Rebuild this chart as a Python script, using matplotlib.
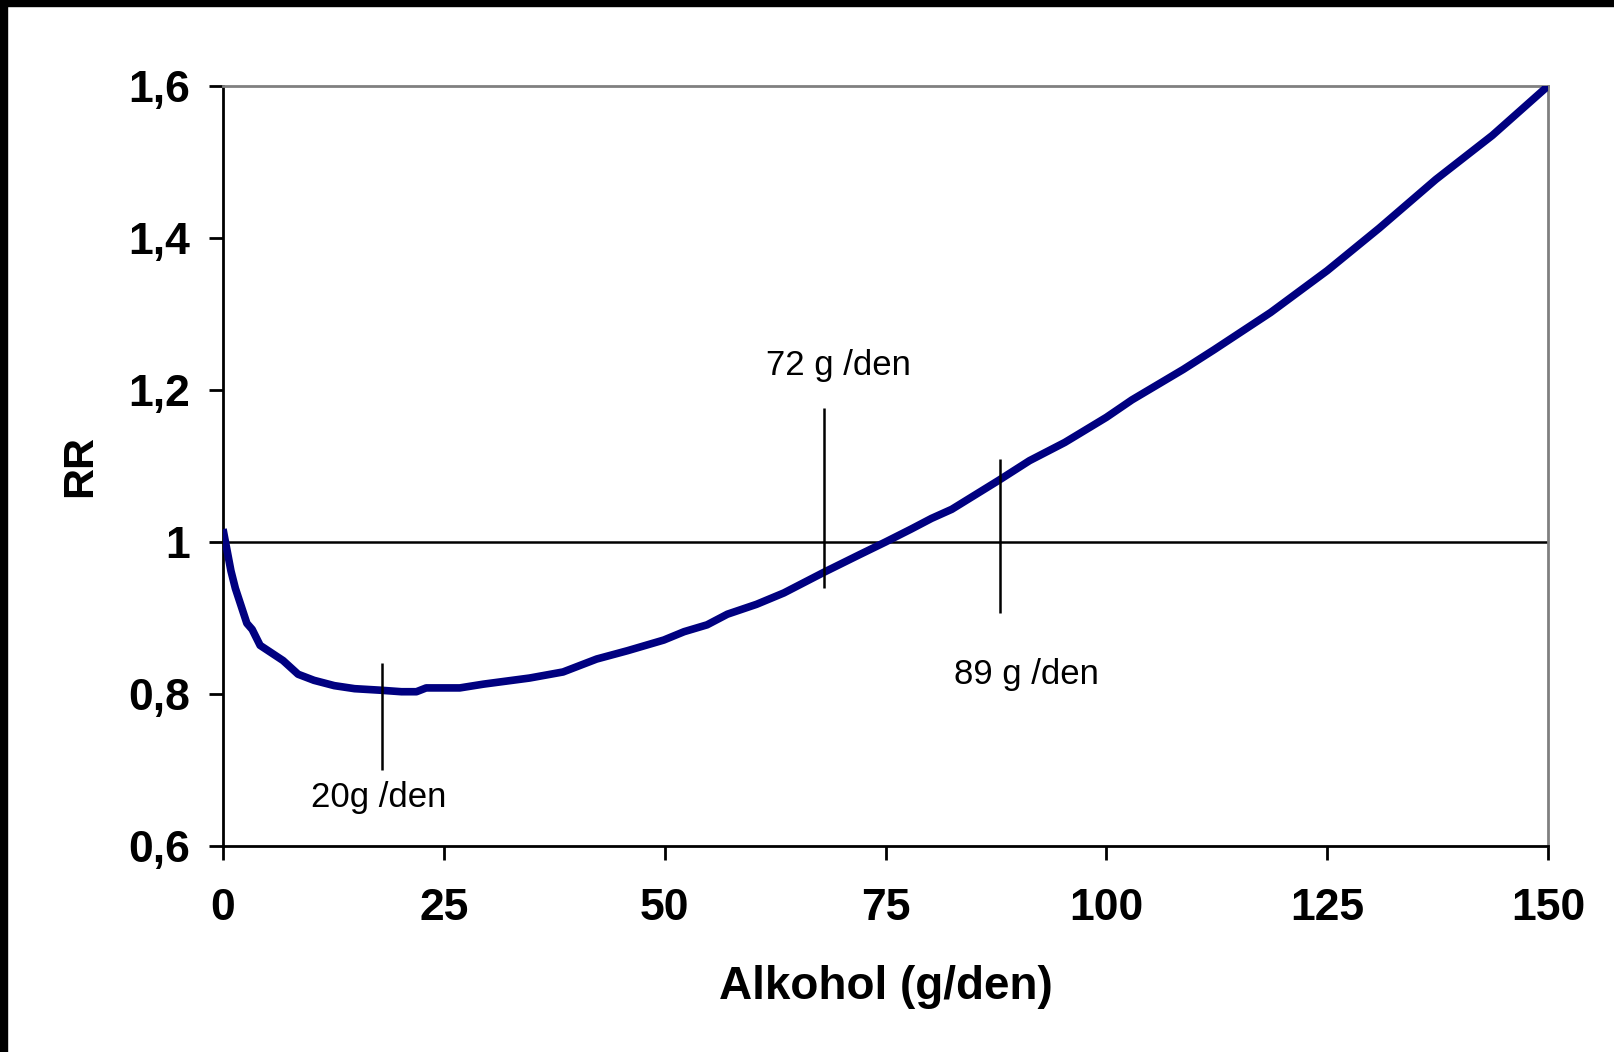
import numpy as np
import matplotlib.pyplot as plt
from matplotlib.patches import Rectangle

# Curve (alcohol g/day vs. relative risk)
alcohol = [0, 0.9, 1.4, 2.7, 3.3, 4.2, 6.8, 8.5, 10.3, 12.6, 14.9, 17.8, 20.2,
           21.9, 23.0, 24.8, 26.8, 29.5, 34.7, 38.5, 42.3, 45.8, 49.9, 52.2,
           54.8, 57.1, 60.4, 63.5, 68.0, 72.0, 75.0, 77.9, 80.2, 82.5, 87.8,
           91.3, 95.3, 100.0, 102.9, 108.7, 112.2, 118.6, 125.0, 130.9, 137.3,
           143.7, 150.0]
rr = [1.017, 0.962, 0.939, 0.893, 0.885, 0.864, 0.844, 0.826, 0.818, 0.811,
      0.807, 0.805, 0.803, 0.803, 0.808, 0.808, 0.808, 0.813, 0.821, 0.829,
      0.846, 0.857, 0.871, 0.882, 0.891, 0.905, 0.918, 0.933, 0.960, 0.983,
      1.000, 1.017, 1.031, 1.043, 1.081, 1.107, 1.131, 1.164, 1.187, 1.227,
      1.253, 1.302, 1.357, 1.413, 1.477, 1.535, 1.600]

x_ticks = [0, 25, 50, 75, 100, 125, 150]
y_ticks = [0.6, 0.8, 1.0, 1.2, 1.4, 1.6]
y_ticklabels = ['0,6', '0,8', '1', '1,2', '1,4', '1,6']

# marker lines: x, y bottom, y top
marks_x = [18, 68, 88]
marks_lo = [0.70, 0.939, 0.907]
marks_hi = [0.841, 1.176, 1.109]
labels = ['20g /den', '72 g /den', '89 g /den']
label_x = [10.0, 61.5, 82.8]
label_y = [0.664, 1.232, 0.826]

plt.rcParams['font.family'] = ['Liberation Sans', 'DejaVu Sans']

fig = plt.figure(figsize=(16.14, 10.52), dpi=100)
ax = fig.add_axes([223 / 1614, 1 - 846 / 1052, 1325 / 1614, 760 / 1052])

ax.plot(alcohol, rr, color='#000080', lw=5.5, solid_capstyle='butt', zorder=3)
ax.axhline(1.0, color='black', lw=1.8, zorder=2)
ax.vlines(marks_x, marks_lo, marks_hi, color='black', lw=1.8, zorder=4)
for t, tx, ty in zip(labels, label_x, label_y):
    ax.text(tx, ty, t, fontsize=25, ha='left', va='center')

ax.set_xlim(0, 150)
ax.set_ylim(0.6, 1.6)
ax.set_xticks(x_ticks)
ax.set_yticks(y_ticks)
ax.set_yticklabels(y_ticklabels)
ax.tick_params(axis='both', direction='out', length=10, width=2, labelsize=32)
ax.tick_params(axis='x', pad=20)
ax.tick_params(axis='y', pad=14)
for lab in ax.get_xticklabels() + ax.get_yticklabels():
    lab.set_fontweight('bold')

for side in ['left', 'bottom']:
    ax.spines[side].set_color('black')
    ax.spines[side].set_linewidth(2)
for side in ['top', 'right']:
    ax.spines[side].set_color('#808080')
    ax.spines[side].set_linewidth(2)

ax.set_xlabel('Alkohol (g/den)', fontsize=33, fontweight='bold')
ax.xaxis.label.set_va('center')
ax.xaxis.set_label_coords(0.5, -0.186)
ax.set_ylabel('RR', fontsize=31, fontweight='bold')
ax.yaxis.label.set_va('center')
ax.yaxis.set_label_coords(-0.108, 0.5)

# dark slide border at top and left
fig.patches.append(Rectangle((0, 1 - 6 / 1052), 1, 6 / 1052, transform=fig.transFigure,
                             color='black', zorder=10))
fig.patches.append(Rectangle((0, 0), 7 / 1614, 1, transform=fig.transFigure,
                             color='black', zorder=10))
edge = fig.add_axes([0, 0, 3 / 1614, 1 - 6 / 1052])
edge.imshow(np.linspace(0, 1, 200).reshape(-1, 1), aspect='auto',
            cmap=plt.matplotlib.colors.LinearSegmentedColormap.from_list(
                'edge', ['#0033cc', '#000a30']), origin='lower')
edge.set_axis_off()

fig.savefig('out.png', dpi=100)
